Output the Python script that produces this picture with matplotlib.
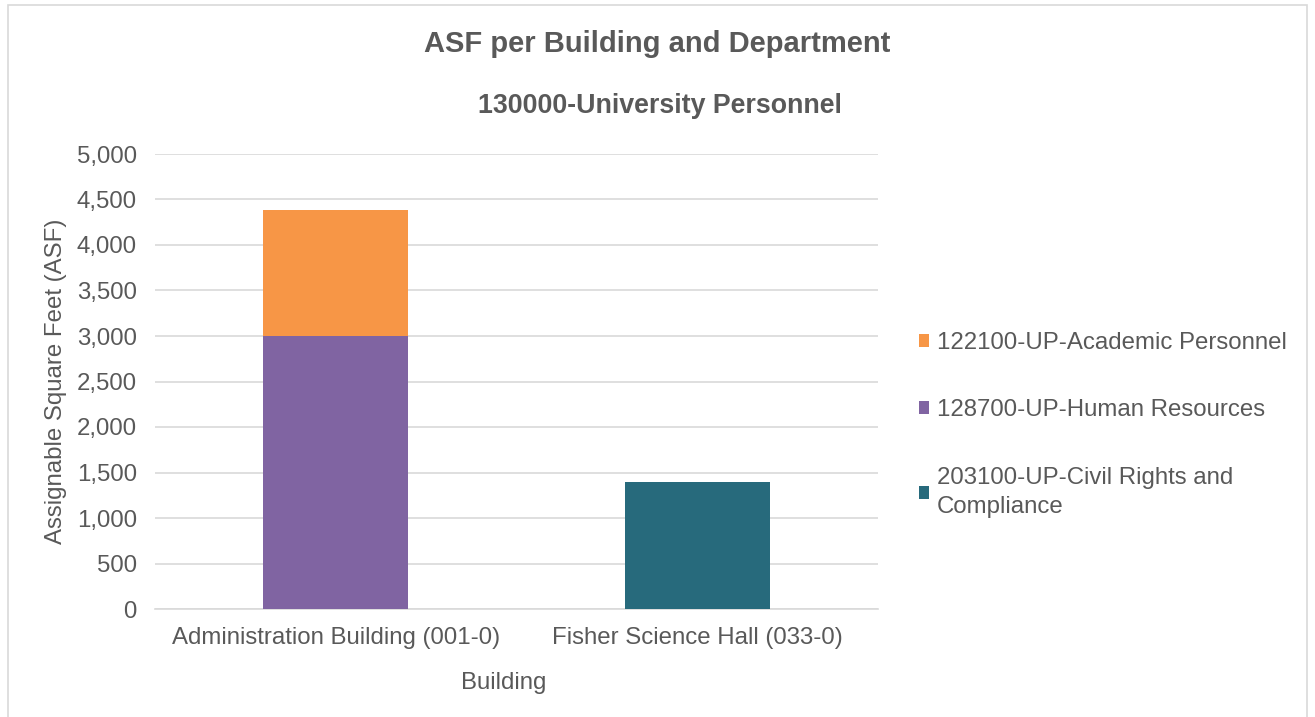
import matplotlib
matplotlib.use("Agg")
import matplotlib.pyplot as plt
from matplotlib.patches import Rectangle, Patch

plt.rcParams['font.family'] = ['Liberation Sans', 'DejaVu Sans']

buildings = ["Administration Building (001-0)", "Fisher Science Hall (033-0)"]
series_names = ["203100-UP-Civil Rights and\nCompliance",
                "128700-UP-Human Resources",
                "122100-UP-Academic Personnel"]
civil_rights = [0, 1400]
human_resources = [3000, 0]
academic_personnel = [1385, 0]
yticks = [0, 500, 1000, 1500, 2000, 2500, 3000, 3500, 4000, 4500, 5000]

colors = ["#276A7C", "#8064A2", "#F79646"]
txt = "#595959"
fs = 17.3

W, H = 1315, 717
fig = plt.figure(figsize=(W / 100, H / 100), dpi=100)
ax = fig.add_axes([155 / W, 1 - 609 / H, (878 - 155) / W, (609 - 154) / H])

x = list(range(len(buildings)))
bw = 0.40
bottom = [0] * len(buildings)
handles = []
for vals, name, c in zip([civil_rights, human_resources, academic_personnel], series_names, colors):
    ax.bar(x, vals, bw, bottom=bottom, color=c, label=name, zorder=3)
    bottom = [b + v for b, v in zip(bottom, vals)]
    handles.append(Patch(facecolor=c, edgecolor='none', label=name))

ax.set_xlim(-0.5, len(buildings) - 0.5)
ax.set_ylim(0, 5000)
ax.set_yticks(yticks)
ax.set_yticklabels([f"{v:,}" for v in yticks])
ax.set_xticks(x)
ax.set_xticklabels(buildings)
ax.yaxis.grid(True, color="#d9d9d9", linewidth=1.2, zorder=0)
ax.set_axisbelow(True)
for s in ["top", "right", "left"]:
    ax.spines[s].set_visible(False)
ax.spines["bottom"].set_color("#d9d9d9")
ax.spines["bottom"].set_linewidth(1.2)
ax.tick_params(axis='both', length=0, colors=txt, labelsize=fs)
ax.tick_params(axis='y', pad=13)
ax.tick_params(axis='x', pad=13)
ax.set_ylabel("Assignable Square Feet (ASF)", fontsize=fs, color=txt, labelpad=7)
ax.set_xlabel("Building", fontsize=fs, color=txt)
ax.xaxis.set_label_coords((504 - 155) / 723, -(683 - 609) / 455)
ax.xaxis.label.set_va('center')

fig.text(0.5, 1 - 44 / H, "ASF per Building and Department", ha='center', va='center',
         fontsize=21, fontweight='bold', color=txt)
fig.text(660 / W, 1 - 106 / H, "130000-University Personnel", ha='center', va='center',
         fontsize=19.3, fontweight='bold', color=txt)

leg = fig.legend(handles=handles[::-1], loc='upper left', bbox_to_anchor=(897 / W, 1 - 310 / H),
                 frameon=False, fontsize=fs, handlelength=0.45, handleheight=0.45,
                 handletextpad=0.3, labelspacing=1.9, labelcolor=txt)
for t in leg.get_texts():
    t.set_linespacing(1.4)

fig.patches.append(Rectangle((8 / W, -0.02), (1307 - 8) / W, 1.02 - 5 / H,
                             transform=fig.transFigure, fill=False,
                             edgecolor="#d9d9d9", linewidth=1.2))

fig.savefig("out.png", dpi=100)
